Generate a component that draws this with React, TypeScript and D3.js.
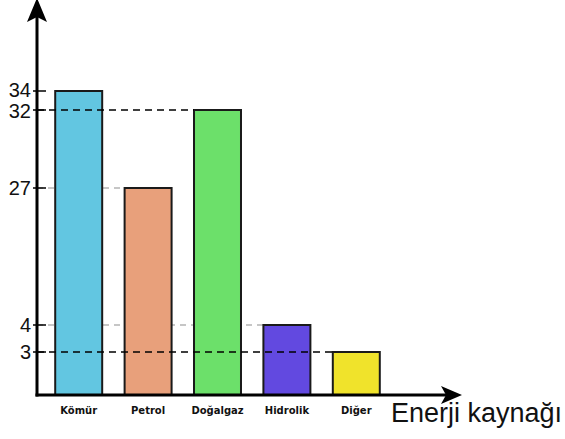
import React, { useEffect, useRef } from 'react';
import * as d3 from 'd3';

// data
const categories = ['Kömür', 'Petrol', 'Doğalgaz', 'Hidrolik', 'Diğer'];
const values = [34, 27, 32, 4, 3];
const colors = ['#62c6e1', '#e8a07b', '#6ce06a', '#6249e0', '#f0e32b'];
const tickValues = [34, 32, 27, 4, 3];
// which guide lines are dark and drawn over the bars
const darkGuides = [32, 3];
const lightGuides = [27, 4];
const xTitle = 'Enerji kaynağı';

const W = 565;
const H = 439;

function App() {
  const ref = useRef<SVGSVGElement>(null);

  useEffect(() => {
    const svg = d3.select(ref.current);
    svg.selectAll('*').remove();

    const axisX = 37;
    const axisY = 395;

    // the picture is schematic, not linear -> polylinear scale
    const y = d3.scaleLinear()
      .domain([0, 3, 4, 27, 32, 34])
      .range([axisY, 352, 325, 188, 110, 91]);

    const x = d3.scaleBand<string>()
      .domain(categories)
      .range([44, 391])
      .paddingInner(0.323)
      .paddingOuter(0.1615);

    const data = categories.map((c, i) => ({ name: c, value: values[i], color: colors[i] }));
    const byValue = (v: number) => data.find(d => d.value === v)!;

    // light guides behind bars
    svg.append('g')
      .selectAll('line')
      .data(lightGuides)
      .enter()
      .append('line')
      .attr('x1', axisX)
      .attr('x2', d => x(byValue(d).name)!)
      .attr('y1', d => y(d))
      .attr('y2', d => y(d))
      .attr('stroke', '#b4b4b4')
      .attr('stroke-width', 1.5)
      .attr('stroke-dasharray', '6,5');

    svg.append('g')
      .selectAll('rect')
      .data(data)
      .enter()
      .append('rect')
      .attr('x', d => x(d.name)!)
      .attr('y', d => y(d.value))
      .attr('width', x.bandwidth())
      .attr('height', d => axisY - y(d.value))
      .attr('fill', d => d.color)
      .attr('stroke', '#1a1a1a')
      .attr('stroke-width', 2);

    // dark guides over bars
    svg.append('g')
      .selectAll('line')
      .data(darkGuides)
      .enter()
      .append('line')
      .attr('x1', axisX)
      .attr('x2', d => x(byValue(d).name)!)
      .attr('y1', d => y(d))
      .attr('y2', d => y(d))
      .attr('stroke', '#000')
      .attr('stroke-width', 1.5)
      .attr('stroke-dasharray', '7,5');

    // y ticks + labels
    const yt = svg.append('g');
    yt.selectAll('line')
      .data(tickValues)
      .enter()
      .append('line')
      .attr('x1', axisX - 4)
      .attr('x2', axisX + 9)
      .attr('y1', d => y(d))
      .attr('y2', d => y(d))
      .attr('stroke', '#000')
      .attr('stroke-width', 1.5);
    yt.selectAll('text')
      .data(tickValues)
      .enter()
      .append('text')
      .attr('x', 31)
      .attr('y', d => y(d) + (d === 34 ? -1.5 : d === 32 ? 0.5 : 0))
      .attr('dy', '0.36em')
      .attr('text-anchor', 'end')
      .attr('font-family', 'Liberation Sans, Arial, sans-serif')
      .attr('font-size', 20)
      .attr('fill', '#111')
      .text(d => d);

    // category labels
    svg.append('g')
      .selectAll('text')
      .data(categories)
      .enter()
      .append('text')
      .attr('x', d => x(d)! + x.bandwidth() / 2)
      .attr('y', 414)
      .attr('text-anchor', 'middle')
      .attr('font-family', 'DejaVu Sans, sans-serif')
      .attr('font-weight', 'bold')
      .attr('font-size', 10)
      .attr('fill', '#111')
      .text(d => d);

    // axes with arrows
    svg.append('line')
      .attr('x1', axisX).attr('x2', axisX)
      .attr('y1', axisY + 1.5).attr('y2', 14)
      .attr('stroke', '#000').attr('stroke-width', 3);
    svg.append('path')
      .attr('d', `M${axisX},-2 L${axisX + 10},22 L${axisX},17 L${axisX - 10},22 Z`)
      .attr('fill', '#000');

    svg.append('line')
      .attr('x1', axisX - 1.5).attr('x2', 452)
      .attr('y1', axisY).attr('y2', axisY)
      .attr('stroke', '#000').attr('stroke-width', 3);
    svg.append('path')
      .attr('d', `M462,${axisY} L441,${axisY - 9} L446,${axisY} L441,${axisY + 9} Z`)
      .attr('fill', '#000');

    svg.append('text')
      .attr('x', 391)
      .attr('y', 422)
      .attr('font-family', 'Liberation Sans, Arial, sans-serif')
      .attr('font-size', 27)
      .attr('fill', '#111')
      .text(xTitle);
  }, []);

  return (
    <svg ref={ref} width={W} height={H}
      style={{ position: 'absolute', left: 0, top: 0, background: '#fff' }} />
  );
}

export default App;
